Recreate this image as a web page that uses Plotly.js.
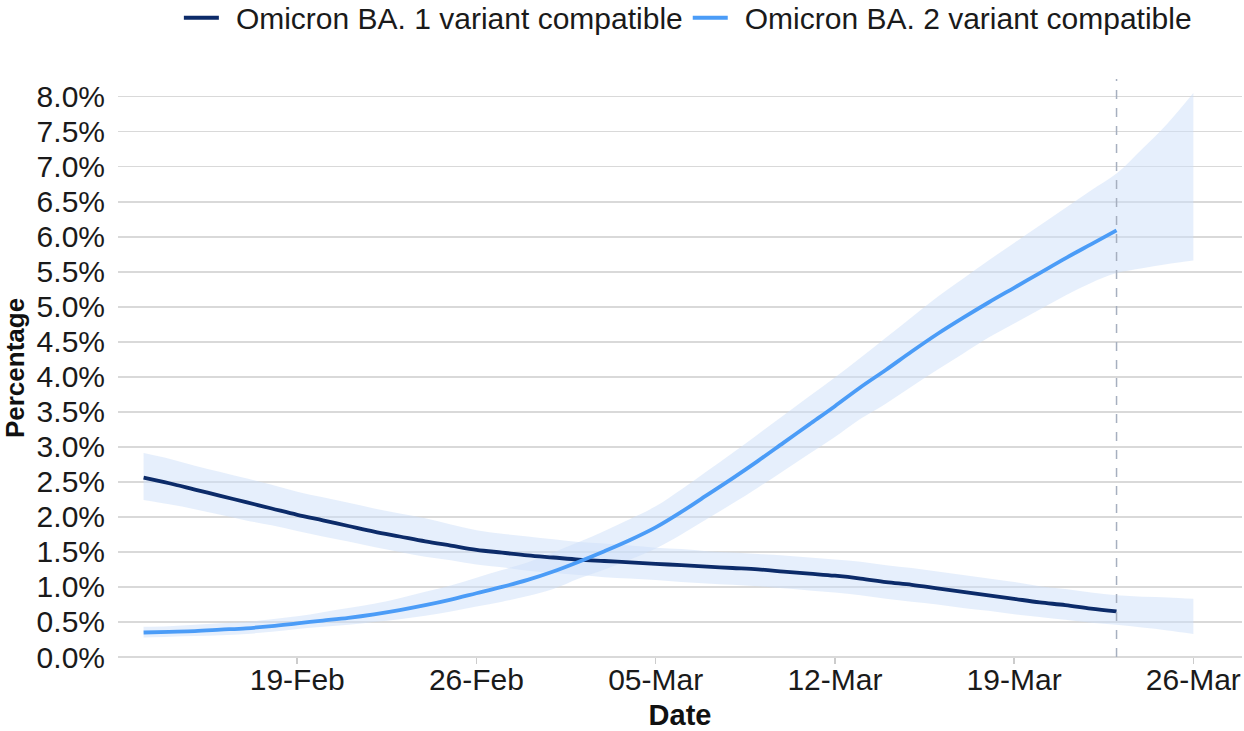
<!DOCTYPE html>
<html>
<head>
<meta charset="utf-8">
<script src="https://cdn.plot.ly/plotly-3.0.1.min.js"></script>
<style>
  html, body { margin: 0; padding: 0; background: #ffffff; }
  #chart { width: 1244px; height: 731px; }
</style>
</head>
<body>
<div id="chart"></div>
<script>
// ---- Data (percent), daily from 13-Feb-2022 ----
const startDate = '2022-02-13';
const ba1Label = 'Omicron BA. 1 variant compatible';
const ba2Label = 'Omicron BA. 2 variant compatible';

// Modelled lines: 13-Feb .. 23-Mar
const ba1Line = [2.56,2.48,2.39,2.30,2.21,2.12,2.03,1.95,1.87,1.79,1.72,1.65,1.59,1.53,1.49,1.45,1.42,1.39,1.37,1.35,1.33,1.31,1.29,1.27,1.25,1.22,1.19,1.16,1.12,1.07,1.03,0.98,0.93,0.88,0.83,0.78,0.74,0.69,0.65];
const ba2Line = [0.35,0.36,0.37,0.39,0.41,0.44,0.48,0.52,0.56,0.61,0.67,0.74,0.82,0.91,1.00,1.10,1.22,1.36,1.51,1.67,1.85,2.07,2.31,2.55,2.80,3.06,3.32,3.58,3.85,4.10,4.36,4.61,4.84,5.06,5.27,5.48,5.69,5.89,6.09];

// Credible intervals: 13-Feb .. 26-Mar
const ba1Upper = [2.91,2.83,2.73,2.64,2.55,2.46,2.36,2.28,2.20,2.12,2.05,1.98,1.89,1.81,1.76,1.72,1.68,1.64,1.62,1.59,1.56,1.54,1.51,1.49,1.47,1.45,1.42,1.39,1.36,1.31,1.27,1.22,1.17,1.12,1.07,1.01,0.97,0.92,0.88,0.86,0.85,0.83];
const ba1Lower = [2.24,2.18,2.11,2.03,1.95,1.88,1.80,1.72,1.65,1.57,1.50,1.43,1.38,1.32,1.28,1.23,1.20,1.17,1.14,1.12,1.10,1.07,1.05,1.03,1.01,0.98,0.95,0.92,0.88,0.83,0.79,0.75,0.70,0.66,0.61,0.57,0.53,0.49,0.46,0.42,0.38,0.33];
const ba2Upper = [0.43,0.44,0.46,0.48,0.50,0.54,0.58,0.64,0.70,0.76,0.84,0.93,1.02,1.13,1.24,1.35,1.49,1.64,1.80,1.97,2.15,2.39,2.65,2.91,3.18,3.45,3.72,3.99,4.27,4.56,4.85,5.14,5.40,5.66,5.91,6.16,6.41,6.66,6.90,7.25,7.62,8.05];
const ba2Lower = [0.28,0.29,0.30,0.31,0.33,0.36,0.40,0.43,0.46,0.50,0.54,0.59,0.65,0.72,0.79,0.87,0.97,1.12,1.25,1.39,1.55,1.75,1.97,2.19,2.42,2.66,2.90,3.14,3.40,3.62,3.86,4.10,4.33,4.56,4.76,4.96,5.16,5.34,5.48,5.55,5.61,5.66];

const tickDates = ['2022-02-19','2022-02-26','2022-03-05','2022-03-12','2022-03-19','2022-03-26'];
const tickLabels = ['19-Feb','26-Feb','05-Mar','12-Mar','19-Mar','26-Mar'];
const lastDataDate = '2022-03-23';

function dateSeq(start, n) {
  const out = [];
  const d0 = new Date(start + 'T00:00:00Z');
  for (let i = 0; i < n; i++) {
    const d = new Date(d0.getTime() + i * 86400000);
    out.push(d.toISOString().slice(0, 10));
  }
  return out;
}
const lineDates = dateSeq(startDate, ba1Line.length);
const bandDates = dateSeq(startDate, ba1Upper.length);

const bandFill = 'rgba(205,223,250,0.5)';
const darkBlue = '#0c2b69';
const lightBlue = '#4b9cf7';
const FONT = '"Liberation Sans", Arial, sans-serif';
const GAP = '\u2009\u2009';

function band(lower, upper) {
  return [
    { x: bandDates, y: lower, type: 'scatter', mode: 'lines', line: { width: 0, shape: 'spline' },
      showlegend: false, hoverinfo: 'skip' },
    { x: bandDates, y: upper, type: 'scatter', mode: 'lines', line: { width: 0, shape: 'spline' },
      fill: 'tonexty', fillcolor: bandFill, showlegend: false, hoverinfo: 'skip' }
  ];
}

const traces = [
  ...band(ba1Lower, ba1Upper),
  ...band(ba2Lower, ba2Upper),
  { x: lineDates, y: ba1Line, type: 'scatter', mode: 'lines', name: GAP + ba1Label,
    line: { color: darkBlue, width: 3.8, shape: 'spline' } },
  { x: lineDates, y: ba2Line, type: 'scatter', mode: 'lines', name: GAP + ba2Label,
    line: { color: lightBlue, width: 3.8, shape: 'spline' } }
];

const layout = {
  width: 1244, height: 731,
  margin: { l: 118, r: 2, t: 79, b: 74, autoexpand: false },
  paper_bgcolor: '#ffffff', plot_bgcolor: '#ffffff',
  font: { family: FONT, size: 30, color: '#1a1a1a' },
  showlegend: true,
  legend: {
    orientation: 'h', traceorder: 'normal', x: 0.507, xanchor: 'center', y: 1.106, yanchor: 'middle',
    itemwidth: 35,
    font: { family: FONT, size: 30, color: '#1a1a1a' }, bgcolor: 'rgba(0,0,0,0)'
  },
  xaxis: {
    type: 'date',
    range: ['2022-02-12', '2022-03-27 21:36'],
    tickvals: tickDates, ticktext: tickLabels,
    ticks: 'outside', ticklen: 6, tickwidth: 1.5, tickcolor: '#cccccc',
    ticklabelstandoff: -10,
    showgrid: false, zeroline: false, showline: false,
    tickfont: { family: FONT, size: 30, color: '#1a1a1a' },
    title: { text: '<b>Date</b>', font: { family: FONT, size: 29, color: '#111111' }, standoff: 9 }
  },
  yaxis: {
    range: [0, 8.25],
    tick0: 0, dtick: 0.5, tickformat: '.1f', ticksuffix: '%',
    showgrid: true, gridcolor: '#d9d9d9', gridwidth: 1.8,
    zeroline: true, zerolinecolor: '#d9d9d9', zerolinewidth: 1.8,
    showline: false, ticks: '',
    ticklabelstandoff: 12,
    tickfont: { family: FONT, size: 30, color: '#1a1a1a' },
    title: { text: '<b>Percentage</b>', font: { family: FONT, size: 26, color: '#111111' }, standoff: 6 }
  },
  shapes: [
    { type: 'line', xref: 'x', yref: 'paper', x0: lastDataDate, x1: lastDataDate, y0: 0, y1: 1,
      line: { color: '#a6afbf', width: 1.5, dash: 'dash' } }
  ]
};

Plotly.newPlot('chart', traces, layout, { staticPlot: true, displayModeBar: false });
</script>
</body>
</html>
